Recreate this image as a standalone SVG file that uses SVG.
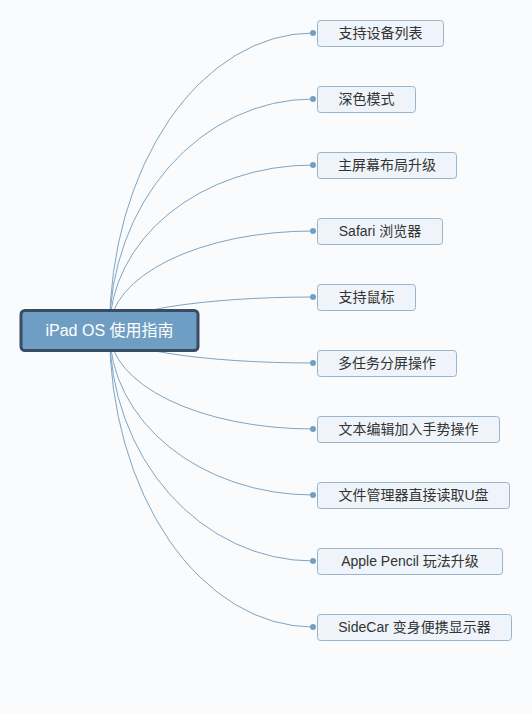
<svg xmlns="http://www.w3.org/2000/svg" width="532" height="715" viewBox="0 0 532 715">
<defs>
<style>
.conn{fill:none;stroke:#7ea5c3;stroke-width:1}
.dot{fill:#739fc1}
.box{fill:#eef4f9;stroke:#98b5cb;stroke-width:1}
.lbl{font-family:"Liberation Sans","Noto Sans CJK SC",sans-serif;font-size:14px;fill:#333;text-anchor:middle}
.root{fill:#6f9ec4;stroke:#384d61;stroke-width:3}
.rlbl{font-family:"Liberation Sans","Noto Sans CJK SC",sans-serif;font-size:16px;fill:#fff;text-anchor:middle}
</style>
</defs>
<rect width="532" height="715" fill="#fafbfc"/>
<g id="connectors">
<path class="conn" d="M109.5,330.5 A203.5,297.5 0 0 1 313,33"/>
<path class="conn" d="M109.5,330.5 A203.5,231.5 0 0 1 313,99"/>
<path class="conn" d="M109.5,330.5 A203.5,165.5 0 0 1 313,165"/>
<path class="conn" d="M109.5,330.5 A203.5,99.5 0 0 1 313,231"/>
<path class="conn" d="M109.5,330.5 A203.5,33.5 0 0 1 313,297"/>
<path class="conn" d="M109.5,330.5 A203.5,32.5 0 0 0 313,363"/>
<path class="conn" d="M109.5,330.5 A203.5,98.5 0 0 0 313,429"/>
<path class="conn" d="M109.5,330.5 A203.5,164.5 0 0 0 313,495"/>
<path class="conn" d="M109.5,330.5 A203.5,230.5 0 0 0 313,561"/>
<path class="conn" d="M109.5,330.5 A203.5,296.5 0 0 0 313,627"/>
<circle class="dot" cx="313" cy="33" r="3"/>
<circle class="dot" cx="313" cy="99" r="3"/>
<circle class="dot" cx="313" cy="165" r="3"/>
<circle class="dot" cx="313" cy="231" r="3"/>
<circle class="dot" cx="313" cy="297" r="3"/>
<circle class="dot" cx="313" cy="363" r="3"/>
<circle class="dot" cx="313" cy="429" r="3"/>
<circle class="dot" cx="313" cy="495" r="3"/>
<circle class="dot" cx="313" cy="561" r="3"/>
<circle class="dot" cx="313" cy="627" r="3"/>
</g>
<g id="root">
<rect class="root" x="21" y="310.5" width="177" height="40" rx="4"/>
<text class="rlbl" x="109.5" y="336">iPad OS 使用指南</text>
</g>
<g id="n1"><rect class="box" x="317.5" y="20.5" width="126" height="26" rx="3"/><text class="lbl" x="380.5" y="38">支持设备列表</text></g>
<g id="n2"><rect class="box" x="317.5" y="86.5" width="98" height="26" rx="3"/><text class="lbl" x="366.5" y="104">深色模式</text></g>
<g id="n3"><rect class="box" x="317.5" y="152.5" width="139" height="26" rx="3"/><text class="lbl" x="387" y="170">主屏幕布局升级</text></g>
<g id="n4"><rect class="box" x="317.5" y="218.5" width="125" height="26" rx="3"/><text class="lbl" x="380" y="236">Safari 浏览器</text></g>
<g id="n5"><rect class="box" x="317.5" y="284.5" width="98" height="26" rx="3"/><text class="lbl" x="366.5" y="302">支持鼠标</text></g>
<g id="n6"><rect class="box" x="317.5" y="350.5" width="139" height="26" rx="3"/><text class="lbl" x="387" y="368">多任务分屏操作</text></g>
<g id="n7"><rect class="box" x="317.5" y="416.5" width="182" height="26" rx="3"/><text class="lbl" x="408.5" y="434">文本编辑加入手势操作</text></g>
<g id="n8"><rect class="box" x="317.5" y="482.5" width="192" height="26" rx="3"/><text class="lbl" x="413.5" y="500">文件管理器直接读取U盘</text></g>
<g id="n9"><rect class="box" x="317.5" y="548.5" width="185" height="26" rx="3"/><text class="lbl" x="410" y="566">Apple Pencil 玩法升级</text></g>
<g id="n10"><rect class="box" x="317.5" y="614.5" width="194" height="26" rx="3"/><text class="lbl" x="414.5" y="632">SideCar 变身便携显示器</text></g>
</svg>
